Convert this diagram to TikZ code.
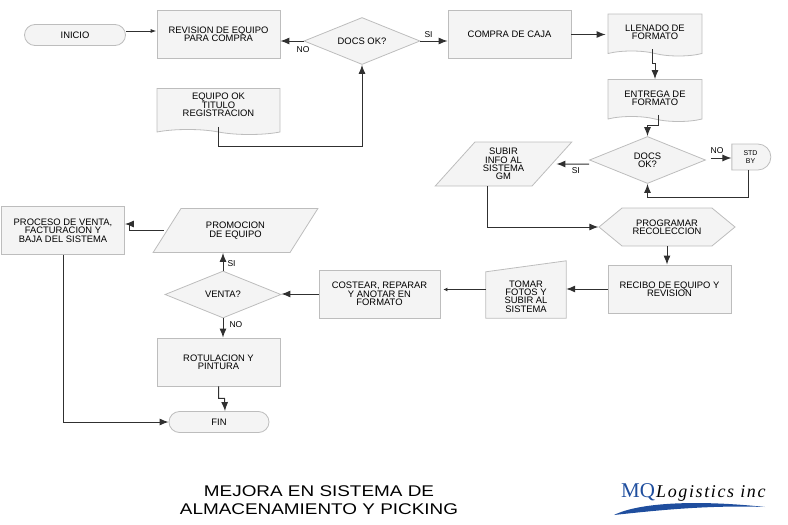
\documentclass[tikz,border=0pt]{standalone}
\usepackage{fontspec}
\setmainfont{Liberation Sans}
\newfontfamily\titlefont[FakeStretch=1.22]{Liberation Sans}
\newfontfamily\logoserif{Liberation Serif}
\usetikzlibrary{shapes.geometric,shapes.misc,shapes.symbols,arrows.meta}
\definecolor{boxfill}{HTML}{F4F4F4}
\definecolor{boxline}{HTML}{BDBDBD}
\definecolor{wireline}{HTML}{303030}
\definecolor{logoblue}{HTML}{1F4E9E}
\tikzset{
  every node/.style={font=\fontsize{9.4}{8.4}\selectfont, text=black, align=center, inner sep=0pt},
  flowbase/.style={draw=boxline, fill=boxfill, line width=0.8pt},
  procbox/.style={flowbase, rectangle, minimum width=123pt, minimum height=48pt},
  termbox/.style={flowbase, rounded rectangle, minimum width=#1, minimum height=21pt},
  docbox/.style={flowbase, tape, tape bend top=none, tape bend bottom=out and in, tape bend height=5pt, minimum width=#1},
  askbox/.style={flowbase, diamond, aspect=2.45, minimum width=116pt, minimum height=47pt},
  databox/.style={flowbase, trapezium, trapezium stretches=true, trapezium left angle=48, trapezium right angle=132, minimum width=#1, minimum height=44pt},
  wire/.style={->, draw=wireline, line width=1pt},
  tag/.style={font=\fontsize{8.5}{9}\selectfont},
}
\begin{document}
\begin{tikzpicture}[>={Latex[length=9pt,width=7pt]}, x=1pt, y=-1pt]
\useasboundingbox (0,0) rectangle (788,525);

% top row
\node[termbox=101pt] (inicio) at (75,35) {INICIO};
\node[procbox] (revision) at (218.5,34) {REVISION DE EQUIPO\\PARA COMPRA};
\node[docbox=123pt, minimum height=46pt] (titulo) at (218.5,109) {EQUIPO OK\\TITULO\\REGISTRACION\\};
\node[askbox] (docsa) at (362,41) {DOCS OK?};
\node[procbox] (compra) at (509.5,34.5) {COMPRA DE CAJA};
\node[docbox=94pt, minimum height=42pt] (llenado) at (655,32.5) {LLENADO DE\\FORMATO};
\node[docbox=94pt, minimum height=42pt] (entrega) at (655,98) {ENTREGA DE\\FORMATO};

% right side
\node[askbox, aspect=2.4] (docsb) at (647.5,160) {DOCS\\OK?};
\node[flowbase, rounded rectangle, rounded rectangle west arc=none, minimum width=39pt, minimum height=26pt, font=\fontsize{7}{8}\selectfont] (standby) at (750.5,157) {STD\\BY};
\node[databox=137pt] (subir) at (503.5,164) {SUBIR\\INFO AL\\SISTEMA\\GM};
\node[flowbase, signal, signal to=west and east, signal pointer angle=79, minimum width=136pt, minimum height=38pt] (programar) at (667,227) {PROGRAMAR\\RECOLECCION};
\node[procbox] (recibo) at (669.5,289) {RECIBO DE EQUIPO Y\\REVISION};

% manual input, the outline hangs on an empty node
\node[rectangle, minimum width=80pt, minimum height=57pt] (tomar) at (526,289.5) {};
\draw[flowbase] (tomar.south west) -- ([yshift=-11pt]tomar.north west) -- (tomar.north east) -- (tomar.south east) -- cycle;
\node (tomartext) at (526,296.5) {TOMAR\\FOTOS Y\\SUBIR AL\\SISTEMA};

% left side
\node[procbox, minimum width=121pt] (costear) at (379.5,294) {COSTEAR, REPARAR\\Y ANOTAR EN\\FORMATO};
\node[askbox] (venta) at (223,294.5) {VENTA?};
\node[databox=165pt] (promocion) at (235.5,230.5) {PROMOCION\\DE EQUIPO};
\node[procbox] (proceso) at (63,230.5) {PROCESO DE VENTA,\\FACTURACION Y\\BAJA DEL SISTEMA};
\node[procbox] (rotulacion) at (218.5,362) {ROTULACION Y\\PINTURA};
\node[termbox=100pt] (fin) at (219,422) {FIN};

% connectors
\draw[wire, >={Latex[length=6pt,width=4pt]}] ([yshift=4pt]inicio.east) -- ([yshift=4pt]inicio.east -| revision.west);
\draw[wire] (docsa.west) -- node[tag, below=5pt, xshift=11pt]{NO} ([yshift=-7pt]revision.east);
\draw[wire] ([yshift=3pt]titulo.south) -- ++(0,20) -| (docsa.south);
\draw[wire] (docsa.east) -- node[tag, above=3pt, pos=.3]{SI} ([yshift=-6.5pt]compra.west);
\draw[wire] (compra.east) -- ([xshift=-2pt]compra.east -| llenado.west);
\draw[wire] ([xshift=-3pt,yshift=2pt]llenado.south) -- ++(0,14) -| (entrega.north);
\draw[wire] ([xshift=3pt,yshift=2pt]entrega.south) -- ++(0,11) -| (docsb.north);
\draw[wire] ([xshift=5pt,yshift=2pt]docsb.east) -- node[tag, above=4pt, pos=.3]{NO} ([yshift=-1pt]standby.west);
\draw[wire] ([xshift=-2.5pt]standby.south) -- ++(0,27) -| (docsb.south);
\draw[wire] ([yshift=-4pt]docsb.west) -- node[tag, below=3pt, xshift=3pt]{SI} ([xshift=4pt]subir.east);
\draw[wire] ([xshift=-16.5pt]subir.south) |- (programar.west);
\draw[wire] (programar.south) -- (programar.south |- recibo.north);
\draw[wire] (recibo.west) -- (recibo.west -| tomar.east);
\draw[wire, >={Latex[length=4pt,width=4pt]}] (tomar.west) -- ([xshift=3pt]tomar.west -| costear.east);
\draw[wire] (costear.west) -- (costear.west -| venta.east);
\draw[wire] (venta.north) -- node[tag, right=4pt, pos=.4]{SI} (venta.north |- promocion.south);
\draw[wire] (venta.south) -- node[tag, right=6pt, pos=.3]{NO} (venta.south |- rotulacion.north);
\draw[wire] ([xshift=-3pt]promocion.west) -- ++(-34,0) |- ([yshift=6.5pt]proceso.east);
\draw[wire] (proceso.south) |- (fin.west);
\draw[wire] (rotulacion.south) -- ++(0,12) -- ++(6,0) -- ([xshift=6pt]fin.north);

% title and logo
\node[font=\titlefont\fontsize{15.5}{18}\selectfont, text=black] (title) at (319,500) {MEJORA EN SISTEMA DE\\ALMACENAMIENTO Y PICKING};
\fill[logoblue] (614,515) .. controls (640,502) and (700,500) .. (765,507) .. controls (710,505) and (660,510) .. cycle;
\node[font=\logoserif\fontsize{21}{21}\selectfont, text=logoblue, anchor=west] (logomq) at (621,492) {MQ};
\node[font=\logoserif\itshape\fontsize{18}{18}\selectfont\addfontfeature{LetterSpace=9}, text=black, anchor=west] (logotext) at (656,493) {Logistics inc};
\end{tikzpicture}
\end{document}
